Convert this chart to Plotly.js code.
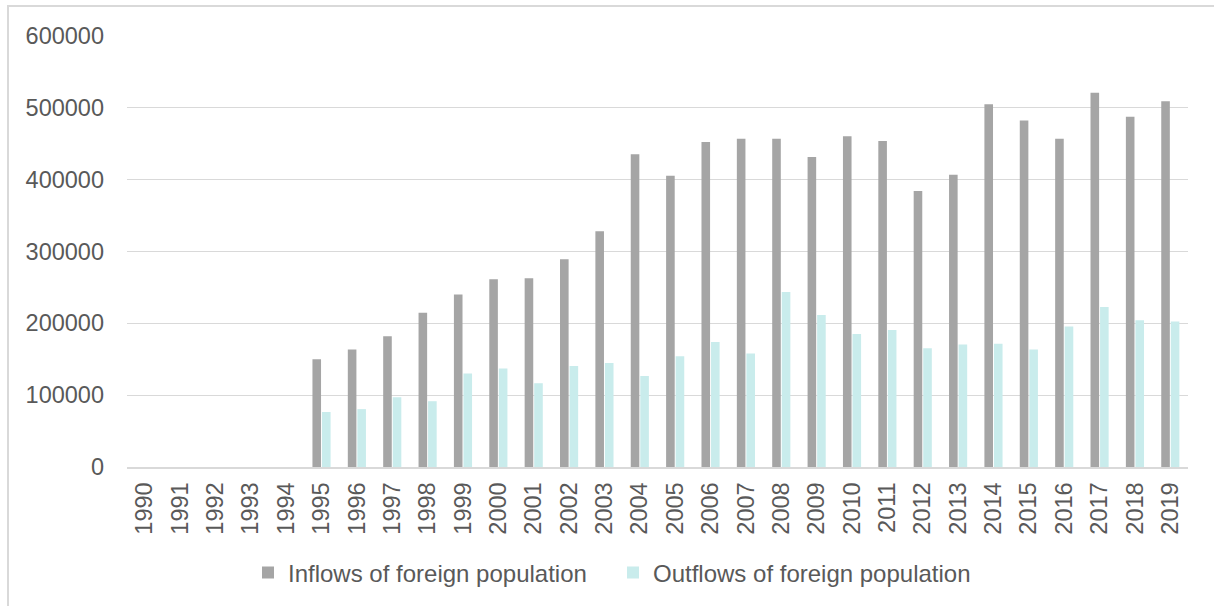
<!DOCTYPE html>
<html>
<head>
<meta charset="utf-8">
<script src="https://cdn.plot.ly/plotly-3.0.1.min.js"></script>
<style>
  html, body { margin: 0; padding: 0; background: #ffffff; overflow: hidden; }
  #wrap { position: relative; width: 1214px; height: 606px; overflow: hidden; }
  #chart { position: absolute; left: 0; top: 0; width: 1214px; height: 606px; }
  #frame { position: absolute; left: 7px; top: 5px; width: 1400px; height: 800px;
           border: 2px solid #d9d9d9; box-sizing: border-box; pointer-events: none; }
</style>
</head>
<body>
<div id="wrap">
  <div id="chart"></div>
  <div id="frame"></div>
</div>
<script>
// Years on the category axis
const years = ["1990","1991","1992","1993","1994","1995","1996","1997","1998","1999",
               "2000","2001","2002","2003","2004","2005","2006","2007","2008","2009",
               "2010","2011","2012","2013","2014","2015","2016","2017","2018","2019"];

// Inflows of foreign population (no figures before 1995)
const inflows = [null, null, null, null, null,
  150000, 163500, 182000, 214500, 240000,
  261000, 262500, 289000, 328000, 435000,
  405000, 452000, 456500, 456500, 431000,
  460000, 453500, 384000, 406500, 504500,
  482000, 456500, 520500, 487000, 508500];

// Outflows of foreign population
const outflows = [null, null, null, null, null,
  76500, 80500, 97000, 91500, 130000,
  137000, 116500, 140500, 144500, 126500,
  154000, 174000, 158000, 243500, 211500,
  185000, 190500, 165000, 170500, 171500,
  163500, 195500, 222500, 204000, 202500];

const yTicks = [0, 100000, 200000, 300000, 400000, 500000, 600000];

const textColor = "#595959";
const fontFamily = "'Liberation Sans', Arial, sans-serif";

const data = [
  {
    type: "bar",
    name: "Inflows of foreign population",
    x: years,
    y: inflows,
    marker: { color: "#A5A5A5", line: { width: 0 } },
    hoverinfo: "x+y+name"
  },
  {
    type: "bar",
    name: "Outflows of foreign population",
    x: years,
    y: outflows,
    marker: { color: "#C9ECEC", line: { width: 0 } },
    hoverinfo: "x+y+name"
  }
];

const layout = {
  width: 1214,
  height: 606,
  paper_bgcolor: "rgba(0,0,0,0)",
  plot_bgcolor: "#ffffff",
  margin: { l: 127, r: 26, t: 35, b: 139, autoexpand: false },
  font: { family: fontFamily, color: textColor, size: 23.5 },
  barmode: "group",
  bargap: 0.46,
  bargroupgap: 0.1,
  showlegend: true,
  legend: {
    orientation: "h",
    xref: "container",
    yref: "container",
    x: 248 / 1214,
    xanchor: "left",
    y: 1 - 573 / 606,
    yanchor: "middle",
    entrywidth: 320,
    entrywidthmode: "pixels",
    font: { family: fontFamily, color: textColor, size: 24 },
    bgcolor: "rgba(0,0,0,0)"
  },
  xaxis: {
    type: "category",
    tickangle: -90,
    ticks: "",
    showgrid: false,
    showline: true,
    linecolor: "#D9D9D9",
    linewidth: 2,
    ticklabelstandoff: 4,
    tickfont: { family: fontFamily, color: textColor, size: 23.5 },
    fixedrange: true
  },
  yaxis: {
    range: [0, 600800],
    tickvals: yTicks,
    ticktext: yTicks.map(v => String(v)),
    showgrid: true,
    gridcolor: "#D9D9D9",
    gridwidth: 1.2,
    zeroline: false,
    showline: false,
    ticks: "",
    ticklabelstandoff: 22,
    tickfont: { family: fontFamily, color: textColor, size: 23.5 },
    fixedrange: true
  }
};

Plotly.newPlot("chart", data, layout, { displayModeBar: false });
</script>
</body>
</html>
